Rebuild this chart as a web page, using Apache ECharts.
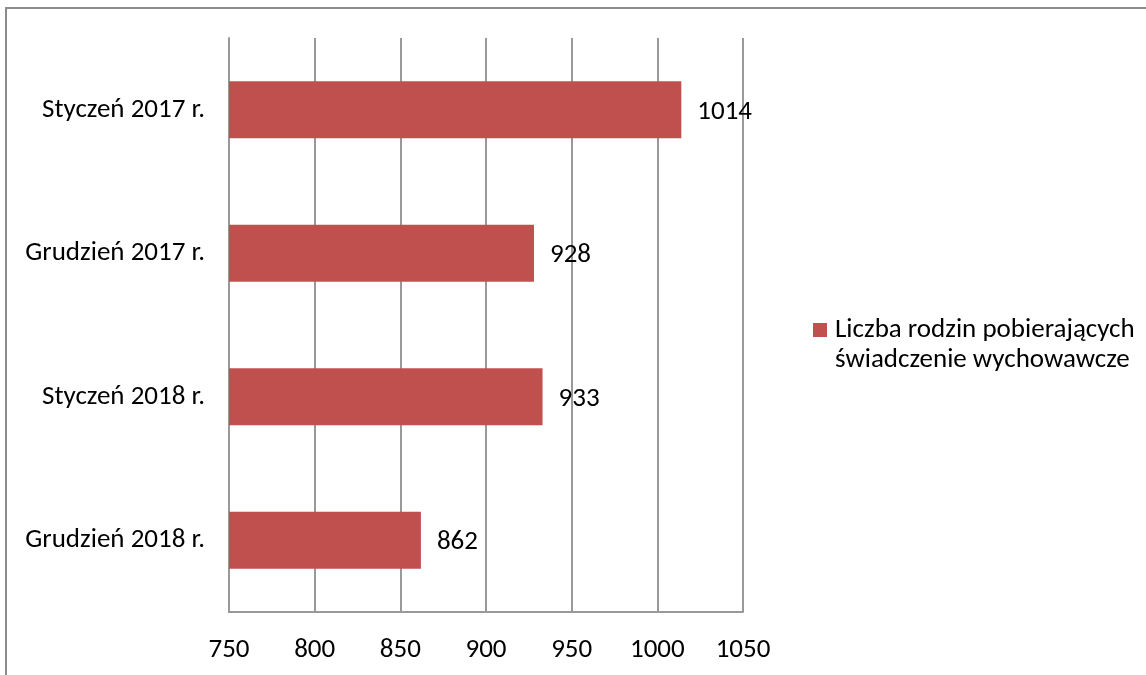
<!DOCTYPE html>
<html><head><meta charset="utf-8">
<script src="https://cdn.jsdelivr.net/npm/echarts@6/dist/echarts.min.js"></script>
<style>html,body{margin:0;padding:0;background:#fff}#c{width:1146px;height:675px}</style>
</head><body><div id="c"></div>
<script>
const categories = ['Styczeń 2017 r.', 'Grudzień 2017 r.', 'Styczeń 2018 r.', 'Grudzień 2018 r.'];
const values = [1014, 928, 933, 862];
const seriesName = 'Liczba rodzin pobierających\nświadczenie wychowawcze';
const xTicks = {min: 750, max: 1050, interval: 50};
const FONT = 'Carlito, Lato, sans-serif';
const FS = 27;

const chart = echarts.init(document.getElementById('c'), null, {renderer: 'canvas'});
chart.setOption({
  animation: false,
  textStyle: {fontFamily: FONT},
  graphic: [{type: 'rect', shape: {x: 6, y: 8, width: 1200, height: 720}, style: {fill: 'none', stroke: '#8c8c8c', lineWidth: 2}, silent: true}],
  grid: {left: 229, right: 403, top: 38, bottom: 63},
  legend: {
    left: 813, top: 315, orient: 'vertical', padding: 0,
    itemWidth: 14, itemHeight: 44, itemGap: 8,
    icon: 'path://M0,0L14,0L14,14L0,14Z M0,44L0.01,44L0.01,44.01Z',
    textStyle: {fontSize: 27, color: '#000', lineHeight: 30, fontFamily: FONT, padding: [0, 0, 0, 3]},
    data: [seriesName]
  },
  xAxis: {
    type: 'value', min: xTicks.min, max: xTicks.max, interval: xTicks.interval,
    axisLine: {show: true, lineStyle: {color: '#999', width: 2}},
    axisTick: {show: false},
    axisLabel: {fontSize: FS, color: '#000', margin: 25, fontFamily: FONT, formatter: v => String(v)},
    splitLine: {show: true, lineStyle: {color: '#999', width: 2}}
  },
  yAxis: {
    type: 'category', data: categories, inverse: true,
    axisLine: {show: true, lineStyle: {color: '#999', width: 2}},
    axisTick: {show: false},
    axisLabel: {fontSize: FS, color: '#000', margin: 24, fontFamily: FONT}
  },
  series: [{
    name: seriesName, type: 'bar', data: values, barWidth: 57,
    itemStyle: {color: '#c0504d'},
    label: {show: true, position: 'right', distance: 16, fontSize: FS, color: '#000', fontFamily: FONT, offset: [0, 2]}
  }]
});
</script></body></html>
